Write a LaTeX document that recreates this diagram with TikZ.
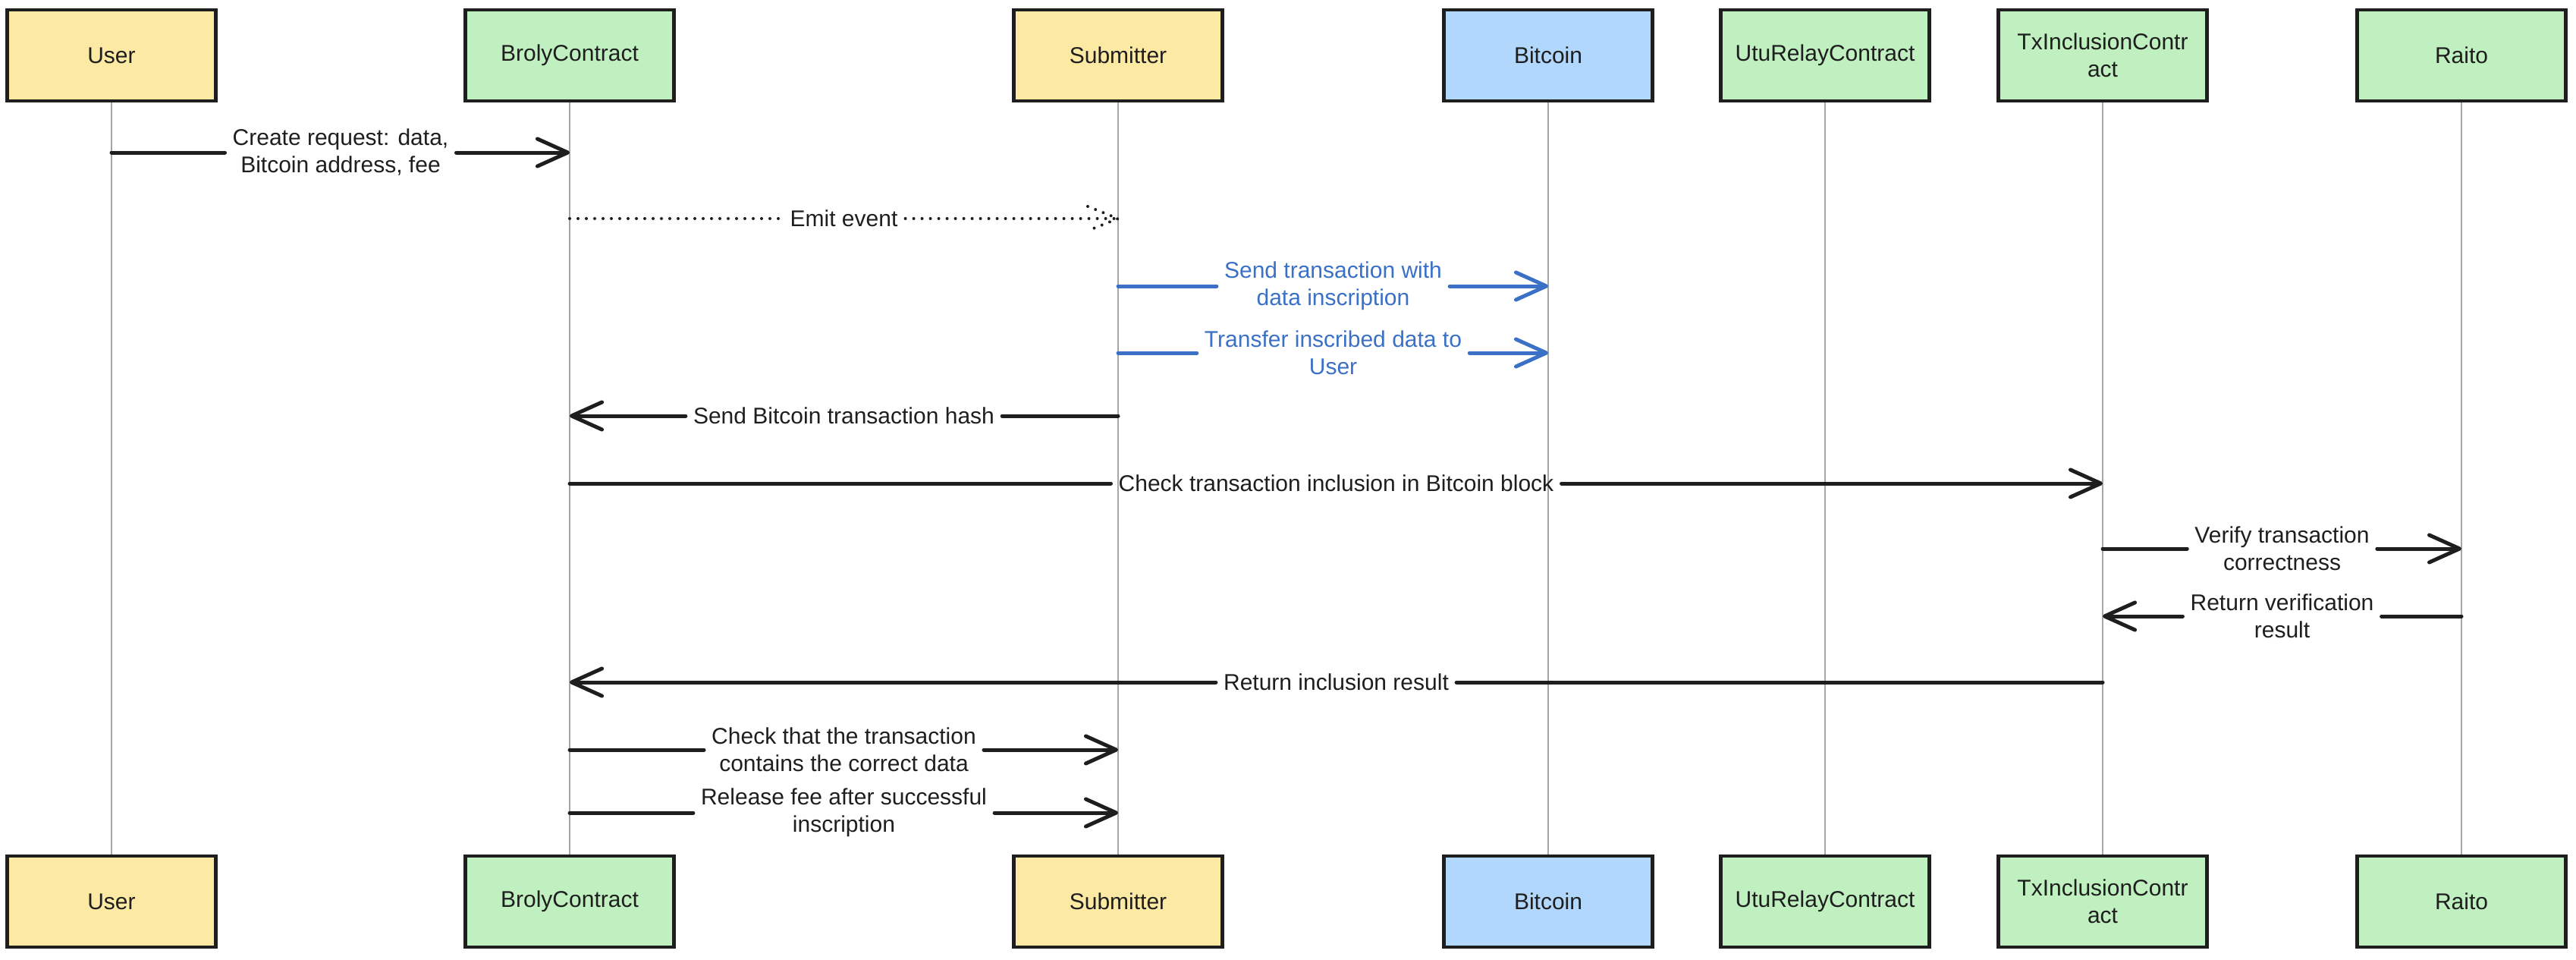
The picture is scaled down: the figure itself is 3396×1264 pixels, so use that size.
\documentclass[tikz,border=0pt]{standalone}
\usepackage{fontspec}
\setmainfont{Liberation Sans}
\usetikzlibrary{arrows.meta,calc}
\definecolor{ink}{HTML}{1E1E1E}
\definecolor{yel}{HTML}{FCE9A4}
\definecolor{grn}{HTML}{C0F0C0}
\definecolor{blu}{HTML}{B1D8FC}
\definecolor{bluetxt}{HTML}{3A70C6}
\definecolor{lifegray}{HTML}{A6A6A6}
\newcommand\dtxt{\fontsize{30pt}{36pt}\selectfont}
\begin{document}
\begin{tikzpicture}[x=1pt,y=-1pt,
  actor/.style={draw=ink, line width=4.5pt, minimum width=275pt, minimum height=120pt,
    inner sep=0pt, align=center, font=\dtxt, text=ink},
  yelbox/.style={actor, fill=yel},
  grnbox/.style={actor, fill=grn},
  blubox/.style={actor, fill=blu},
  life/.style={draw=lifegray, line width=2pt},
  lbl/.style={align=center, inner xsep=10pt, inner ysep=0pt, font=\dtxt, text=ink},
  bluelbl/.style={lbl, text=bluetxt},
  msg/.style={draw=ink, line width=5pt, line cap=round},
  msgtip/.style={msg, -{Straight Barb[length=40pt,width=36pt,round]}},
  bmsg/.style={msg, draw=bluetxt},
  bmsgtip/.style={msgtip, draw=bluetxt},
  dotline/.style={draw=ink, line width=4pt, line cap=round, dash pattern=on 0pt off 11pt}
]
\useasboundingbox (0,0) rectangle (3396,1264);

% actors top
\node[yelbox] (userT) at (147,73) {User};
\node[grnbox] (brolyT) at (751,73) {BrolyContract};
\node[yelbox] (subT) at (1474,73) {Submitter};
\node[blubox] (btcT) at (2041,73) {Bitcoin};
\node[grnbox] (utuT) at (2406,73) {UtuRelayContract};
\node[grnbox] (txT) at (2772,73) {TxInclusionContr\\act};
\node[grnbox] (raitoT) at (3245,73) {Raito};
% actors bottom
\node[yelbox] (userB) at (147,1188) {User};
\node[grnbox] (brolyB) at (751,1188) {BrolyContract};
\node[yelbox] (subB) at (1474,1188) {Submitter};
\node[blubox] (btcB) at (2041,1188) {Bitcoin};
\node[grnbox] (utuB) at (2406,1188) {UtuRelayContract};
\node[grnbox] (txB) at (2772,1188) {TxInclusionContr\\act};
\node[grnbox] (raitoB) at (3245,1188) {Raito};

% lifelines
\foreach \a in {user,broly,sub,btc,utu,tx,raito}
  \draw[life] (\a T) -- (\a B);

% message end points
\coordinate (m1a) at (userT |- 0,201);  \coordinate (m1b) at (brolyT |- 0,201);
\coordinate (m2a) at (brolyT |- 0,288); \coordinate (m2b) at (subT |- 0,288);
\coordinate (m3a) at (subT |- 0,377);   \coordinate (m3b) at (btcT |- 0,377);
\coordinate (m4a) at (subT |- 0,465);   \coordinate (m4b) at (btcT |- 0,465);
\coordinate (m5a) at (subT |- 0,548);   \coordinate (m5b) at (brolyT |- 0,548);
\coordinate (m6a) at (brolyT |- 0,637); \coordinate (m6b) at (txT |- 0,637);
\coordinate (m7a) at (txT |- 0,723);    \coordinate (m7b) at (raitoT |- 0,723);
\coordinate (m8a) at (raitoT |- 0,812); \coordinate (m8b) at (txT |- 0,812);
\coordinate (m9a) at (txT |- 0,899);    \coordinate (m9b) at (brolyT |- 0,899);
\coordinate (m10a) at (brolyT |- 0,988); \coordinate (m10b) at (subT |- 0,988);
\coordinate (m11a) at (brolyT |- 0,1071); \coordinate (m11b) at (subT |- 0,1071);

% labels
\node[lbl] (l1) at ($(m1a)!0.5!(m1b)$) {Create request: data,\\Bitcoin address, fee};
\node[lbl] (l2) at ($(m2a)!0.5!(m2b)$) {Emit event};
\node[bluelbl] (l3) at ($(m3a)!0.5!(m3b)$) {Send transaction with\\data inscription};
\node[bluelbl] (l4) at ($(m4a)!0.5!(m4b)$) {Transfer inscribed data to\\User};
\node[lbl] (l5) at ($(m5a)!0.5!(m5b)$) {Send Bitcoin transaction hash};
\node[lbl] (l6) at ($(m6a)!0.5!(m6b)$) {Check transaction inclusion in Bitcoin block};
\node[lbl] (l7) at ($(m7a)!0.5!(m7b)$) {Verify transaction\\correctness};
\node[lbl] (l8) at ($(m8a)!0.5!(m8b)$) {Return verification\\result};
\node[lbl] (l9) at ($(m9a)!0.5!(m9b)$) {Return inclusion result};
\node[lbl] (l10) at ($(m10a)!0.5!(m10b)$) {Check that the transaction\\contains the correct data};
\node[lbl] (l11) at ($(m11a)!0.5!(m11b)$) {Release fee after successful\\inscription};

% messages
\draw[msg] (m1a) -- (l1.west);  \draw[msgtip] (l1.east) -- (m1b);
\draw[dotline] (m2a) -- (l2.west); \draw[dotline] (l2.east) -- (m2b);
\draw[dotline] ([shift={(-40,-16)}]m2b) -- (m2b) -- ([shift={(-40,16)}]m2b);
\draw[bmsg] (m3a) -- (l3.west); \draw[bmsgtip] (l3.east) -- (m3b);
\draw[bmsg] (m4a) -- (l4.west); \draw[bmsgtip] (l4.east) -- (m4b);
\draw[msg] (m5a) -- (l5.east);  \draw[msgtip] (l5.west) -- (m5b);
\draw[msg] (m6a) -- (l6.west);  \draw[msgtip] (l6.east) -- (m6b);
\draw[msg] (m7a) -- (l7.west);  \draw[msgtip] (l7.east) -- (m7b);
\draw[msg] (m8a) -- (l8.east);  \draw[msgtip] (l8.west) -- (m8b);
\draw[msg] (m9a) -- (l9.east);  \draw[msgtip] (l9.west) -- (m9b);
\draw[msg] (m10a) -- (l10.west); \draw[msgtip] (l10.east) -- (m10b);
\draw[msg] (m11a) -- (l11.west); \draw[msgtip] (l11.east) -- (m11b);
\end{tikzpicture}
\end{document}
